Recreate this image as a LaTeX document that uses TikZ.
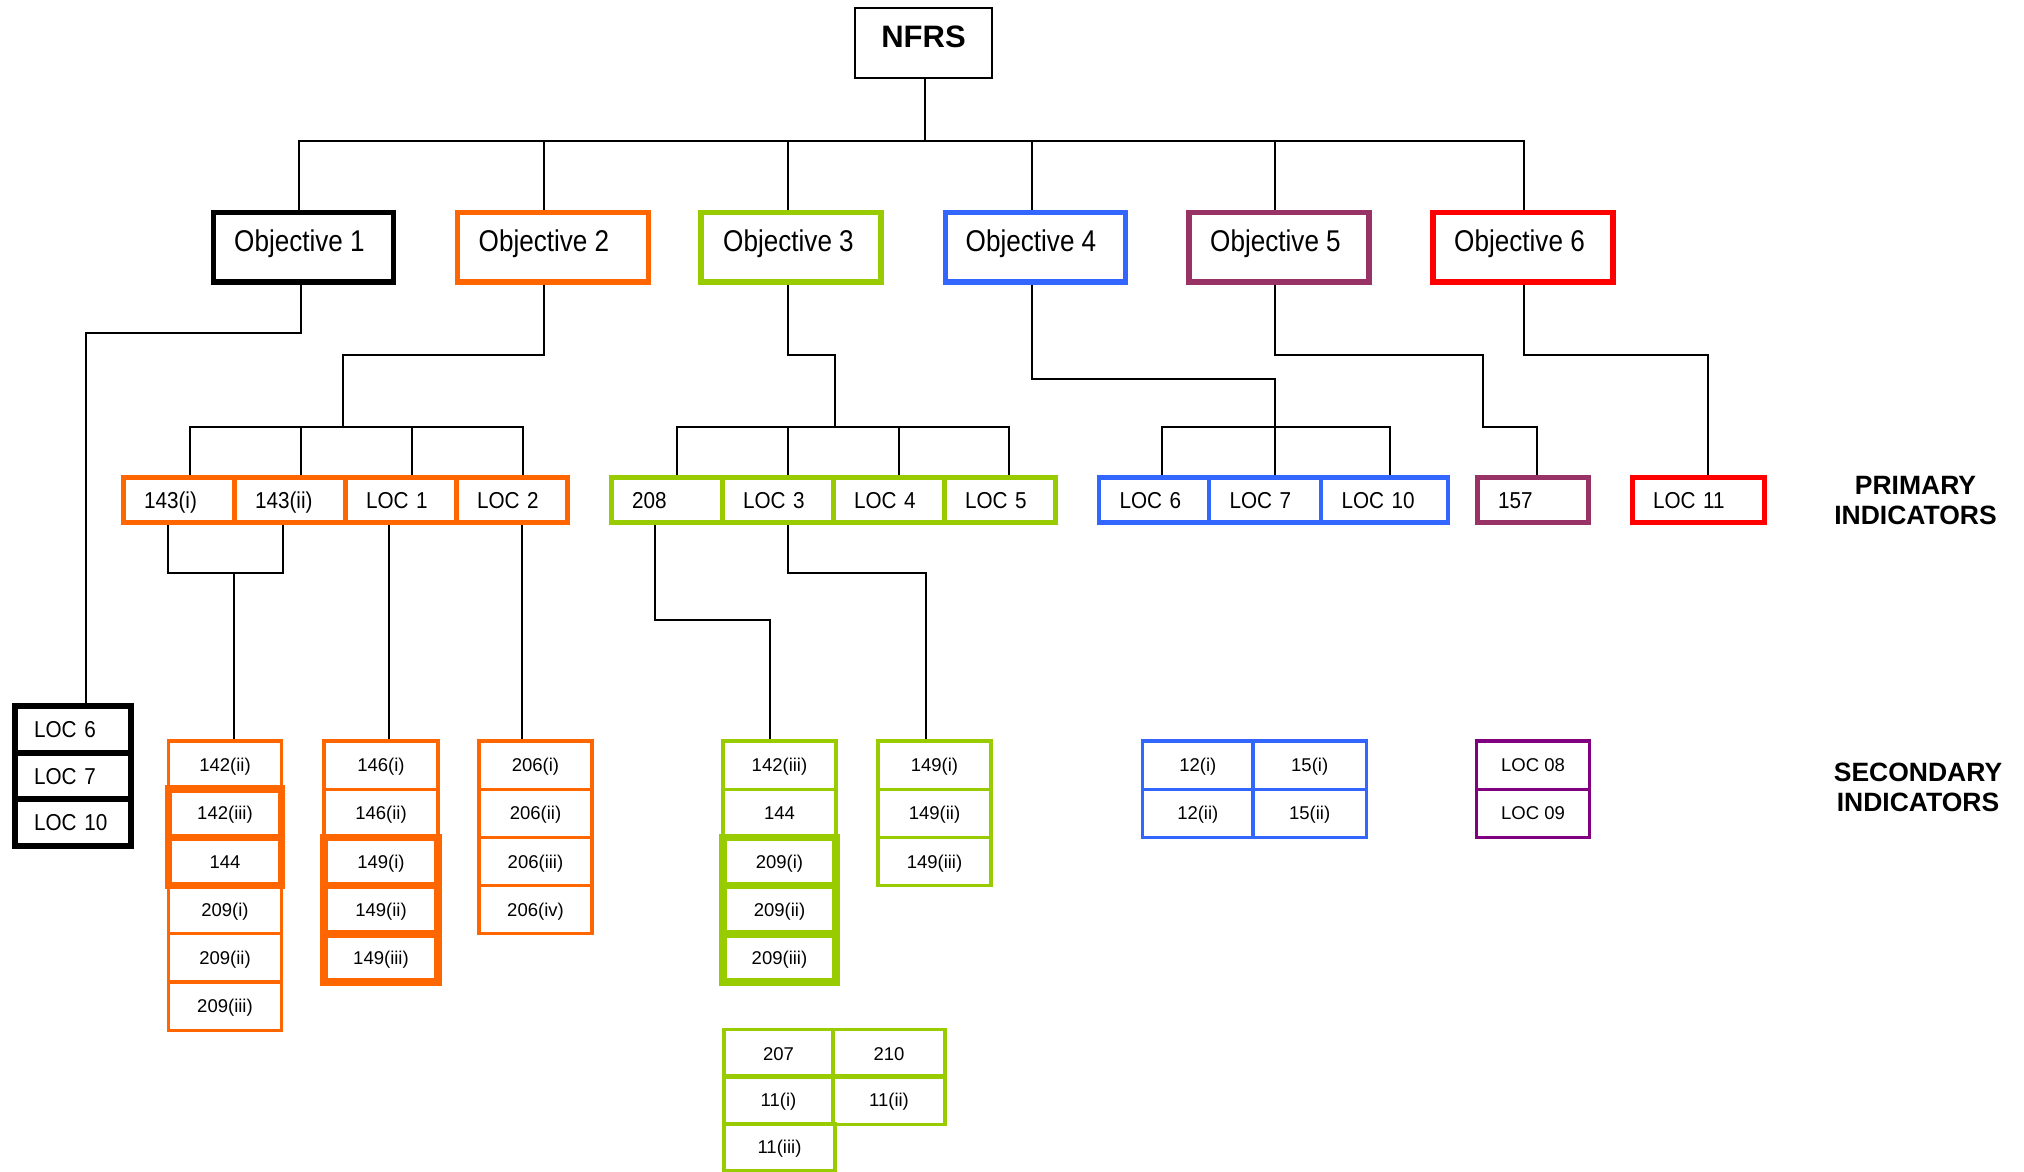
\documentclass[tikz,border=0pt]{standalone}
\usepackage{fontspec}
\setmainfont{Liberation Sans}
\newfontfamily\objfont[FakeStretch=0.87]{Liberation Sans}
\newfontfamily\primfont[FakeStretch=0.9]{Liberation Sans}
\definecolor{orng}{HTML}{FF6600}
\definecolor{grn}{HTML}{99CC00}
\definecolor{blu}{HTML}{3366FF}
\definecolor{plumc}{HTML}{993366}
\definecolor{redc}{HTML}{FF0000}
\definecolor{purp}{HTML}{800080}
\begin{document}
\begin{tikzpicture}[x=1pt,y=-1pt,
  conn/.style={draw=black, line width=1.8pt},
  objbox/.style={draw=#1, line width=5.2pt, minimum width=180pt, minimum height=69.3pt,
    inner sep=0pt, font=\objfont\fontsize{30}{36}\selectfont, text height=21.5pt, text depth=14pt},
  prim/.style={draw=#1, line width=4.8pt, minimum height=45.2pt, inner xsep=20.5pt, inner ysep=0pt,
    align=left, font=\primfont\fontsize{23}{27}\selectfont, text height=16.5pt, text depth=0pt},
  blackcell/.style={draw=black, line width=5.8pt, minimum height=46.7pt, inner xsep=19.5pt, inner ysep=0pt,
    text width=77pt, align=left, font=\primfont\fontsize{23}{27}\selectfont, text height=16.5pt, text depth=0pt},
  cell/.style={draw=#1, line width=3.2pt, minimum height=48.2pt, inner sep=0pt,
    font=\fontsize{18.5}{22}\selectfont, text height=13.2pt, text depth=0pt},
  thick/.style={line width=7.5pt},
  lbl/.style={align=center, font=\bfseries\fontsize{26.5}{30.5}\selectfont, inner sep=0pt}
]
\useasboundingbox (0,0) rectangle (2024,1172);
\fill[white] (0,0) rectangle (2024,1172);

% ---- top level ----
\node[draw, line width=2pt, minimum width=137pt, minimum height=70.8pt, inner sep=0pt,
  font=\bfseries\fontsize{31}{36}\selectfont, text height=22.2pt, text depth=13pt] (nfrs) at (923.5,43.1) {NFRS};

% ---- objectives ----
\node[objbox=black] (obj1) at (303.5,247.3) {\hspace*{-8pt}Objective 1};
\node[objbox=orng, minimum width=191pt] (obj2) at (553,247.3) {\hspace*{-18pt}Objective 2};
\node[objbox=grn]   (obj3) at (791,247.3)   {\hspace*{-5pt}Objective 3};
\node[objbox=blu]   (obj4) at (1035.5,247.3){\hspace*{-9pt}Objective 4};
\node[objbox=plumc] (obj5) at (1279,247.3)  {\hspace*{-7pt}Objective 5};
\node[objbox=redc]  (obj6) at (1523,247.3)  {\hspace*{-7pt}Objective 6};

% ---- primary indicators ----
\node[prim=orng, text width=70pt] (p1) at (179,500) {143(i)};
\node[prim=orng, text width=70pt] (p2) at (290,500) {143(ii)};
\node[prim=orng, text width=70pt] (p3) at (401,500) {LOC 1};
\node[prim=orng, text width=70pt] (p4) at (512,500) {LOC 2};
\node[prim=grn, text width=70pt] (g1) at (667,500) {208};
\node[prim=grn, text width=70pt] (g2) at (778,500) {LOC 3};
\node[prim=grn, text width=70pt] (g3) at (889,500) {LOC 4};
\node[prim=grn, text width=70pt] (g4) at (1000,500) {LOC 5};
\node[prim=blu, text width=69pt] (q1) at (1154,500) {LOC 6};
\node[prim=blu, text width=71pt] (q2) at (1265,500) {LOC 7};
\node[prim=blu, text width=86pt] (q3) at (1384.5,500) {LOC 10};
\node[prim=plumc, text width=70pt] (r1) at (1533,500) {157};
\node[prim=redc, text width=91pt] (r2) at (1698.5,500) {LOC 11};

\node[lbl] (plabel) at (1915.5,500.3) {PRIMARY\\INDICATORS};
\node[lbl] (slabel) at (1918,787.5) {SECONDARY\\INDICATORS};

% ---- objective 1 stack ----
\node[blackcell] (s1) at (72.6,729.3) {LOC 6};
\node[blackcell] (s2) at (72.6,776) {LOC 7};
\node[blackcell] (s3) at (72.6,822.7) {LOC 10};

% ---- secondary indicators, thin cells ----
\begin{scope}[every node/.append style={minimum width=113pt}]
\node[cell=orng] (a1) at (225,765.1) {142(ii)};
\node[cell=orng] (a4) at (225,909.7) {209(i)};
\node[cell=orng] (a5) at (225,957.9) {209(ii)};
\node[cell=orng] (a6) at (225,1006.1) {209(iii)};
\end{scope}
\begin{scope}[every node/.append style={minimum width=114pt}]
\node[cell=orng] (b1) at (381,765.1) {146(i)};
\node[cell=orng] (b2) at (381,813.3) {146(ii)};
\end{scope}
\begin{scope}[every node/.append style={minimum width=113pt}]
\node[cell=orng] (c1) at (535.5,765.1) {206(i)};
\node[cell=orng] (c2) at (535.5,813.3) {206(ii)};
\node[cell=orng] (c3) at (535.5,861.5) {206(iii)};
\node[cell=orng] (c4) at (535.5,909.7) {206(iv)};
\node[cell=grn] (d1) at (779.5,765.1) {142(iii)};
\node[cell=grn] (d2) at (779.5,813.3) {144};
\node[cell=grn] (e1) at (934.5,765.1) {149(i)};
\node[cell=grn] (e2) at (934.5,813.3) {149(ii)};
\node[cell=grn] (e3) at (934.5,861.5) {149(iii)};
\node[cell=purp] (h1) at (1533,765.1) {LOC 08};
\node[cell=purp] (h2) at (1533,813.3) {LOC 09};
\end{scope}
\begin{scope}[every node/.append style={minimum width=110.4pt}]
\node[cell=blu] (f1) at (1197.8,765.1) {12(i)};
\node[cell=blu] (f3) at (1197.8,813.3) {12(ii)};
\end{scope}
\begin{scope}[every node/.append style={minimum width=113.4pt}]
\node[cell=blu] (f2) at (1309.7,765.1) {15(i)};
\node[cell=blu] (f4) at (1309.7,813.3) {15(ii)};
\end{scope}
\begin{scope}[every node/.append style={line width=4pt, minimum height=47pt}]
\node[cell=grn, minimum width=109pt] (m1) at (778.5,1053.5) {207};
\node[cell=grn, minimum width=112pt] (m2) at (889,1053.5) {210};
\node[cell=grn, minimum width=109pt] (m3) at (778.5,1100) {11(i)};
\node[cell=grn, minimum width=112pt] (m4) at (889,1100) {11(ii)};
\node[cell=grn, minimum width=111pt, minimum height=46.5pt] (m5) at (779.5,1147) {11(iii)};
\end{scope}

% ---- secondary indicators, emphasised cells ----
\begin{scope}[every node/.append style={minimum width=113pt}]
\node[cell=orng, thick] (a2) at (225,813.3) {142(iii)};
\node[cell=orng, thick] (a3) at (225,861.5) {144};
\node[cell=grn, thick] (d3) at (779.5,861.5) {209(i)};
\node[cell=grn, thick] (d4) at (779.5,909.7) {209(ii)};
\node[cell=grn, thick] (d5) at (779.5,957.9) {209(iii)};
\end{scope}
\begin{scope}[every node/.append style={minimum width=114pt}]
\node[cell=orng, thick] (b3) at (381,861.5) {149(i)};
\node[cell=orng, thick] (b4) at (381,909.7) {149(ii)};
\node[cell=orng, thick] (b5) at (381,957.9) {149(iii)};
\end{scope}

% ---- connectors ----
\coordinate (busA) at (0,141);
\coordinate (busB) at (0,427);
\draw[conn] ([xshift=1.5pt]nfrs.south) -- ([xshift=1.5pt]nfrs.south |- busA);
\draw[conn] ([xshift=-4.5pt]obj1.north) |- ([xshift=1pt]obj6.north |- busA) -- ([xshift=1pt]obj6.north);
\foreach \n/\s in {obj2/-9pt, obj3/-3pt, obj4/-3.5pt, obj5/-4pt}
  \draw[conn] ([xshift=\s]\n.north) -- ([xshift=\s]\n.north |- busA);

% objective 1
\coordinate (k1) at (86,333);
\draw[conn] ([xshift=-2.5pt]obj1.south) |- (k1) -- (k1 |- s1.north);

% objective 2
\coordinate (k2) at (343,355);
\draw[conn] ([xshift=-9pt]obj2.south) |- (k2) -- (k2 |- busB);
\draw[conn] ([xshift=11pt]p1.north) |- ([xshift=11pt]p4.north |- busB) -- ([xshift=11pt]p4.north);
\foreach \n in {p2,p3}
  \draw[conn] ([xshift=11pt]\n.north) -- ([xshift=11pt]\n.north |- busB);

% objective 3
\coordinate (k3) at (835,355);
\draw[conn] ([xshift=-3pt]obj3.south) |- (k3) -- (k3 |- busB);
\draw[conn] ([xshift=10pt]g1.north) |- ([xshift=9pt]g4.north |- busB) -- ([xshift=9pt]g4.north);
\foreach \n in {g2,g3}
  \draw[conn] ([xshift=10pt]\n.north) -- ([xshift=10pt]\n.north |- busB);

% objective 4
\coordinate (k4) at (1275,379);
\draw[conn] ([xshift=-3.5pt]obj4.south) |- (k4) -- (k4 |- busB);
\draw[conn] ([xshift=8pt]q1.north) |- ([xshift=5.5pt]q3.north |- busB) -- ([xshift=5.5pt]q3.north);
\draw[conn] ([xshift=10pt]q2.north) -- ([xshift=10pt]q2.north |- busB);

% objective 5
\coordinate (k5a) at (1483,355);
\coordinate (k5b) at (1537,427);
\draw[conn] ([xshift=-4pt]obj5.south) |- (k5a) -- (k5a |- k5b) -- (k5b) -- (k5b |- r1.north);

% objective 6
\coordinate (k6) at (1708,355);
\draw[conn] ([xshift=1pt]obj6.south) |- (k6) -- (k6 |- r2.north);

% primary to secondary
\coordinate (k7) at (234,573);
\draw[conn] ([xshift=-11pt]p1.south) |- (k7) -| ([xshift=-7pt]p2.south);
\draw[conn] (k7) -- (k7 |- a1.north);
\draw[conn] ([xshift=-12pt]p3.south) -- ([xshift=-12pt]p3.south |- b1.north);
\draw[conn] ([xshift=10pt]p4.south) -- ([xshift=10pt]p4.south |- c1.north);
\coordinate (k8) at (770,620);
\draw[conn] ([xshift=-12pt]g1.south) |- (k8) -- (k8 |- d1.north);
\coordinate (k9) at (926,573);
\draw[conn] ([xshift=10pt]g2.south) |- (k9) -- (k9 |- e1.north);
\end{tikzpicture}
\end{document}
